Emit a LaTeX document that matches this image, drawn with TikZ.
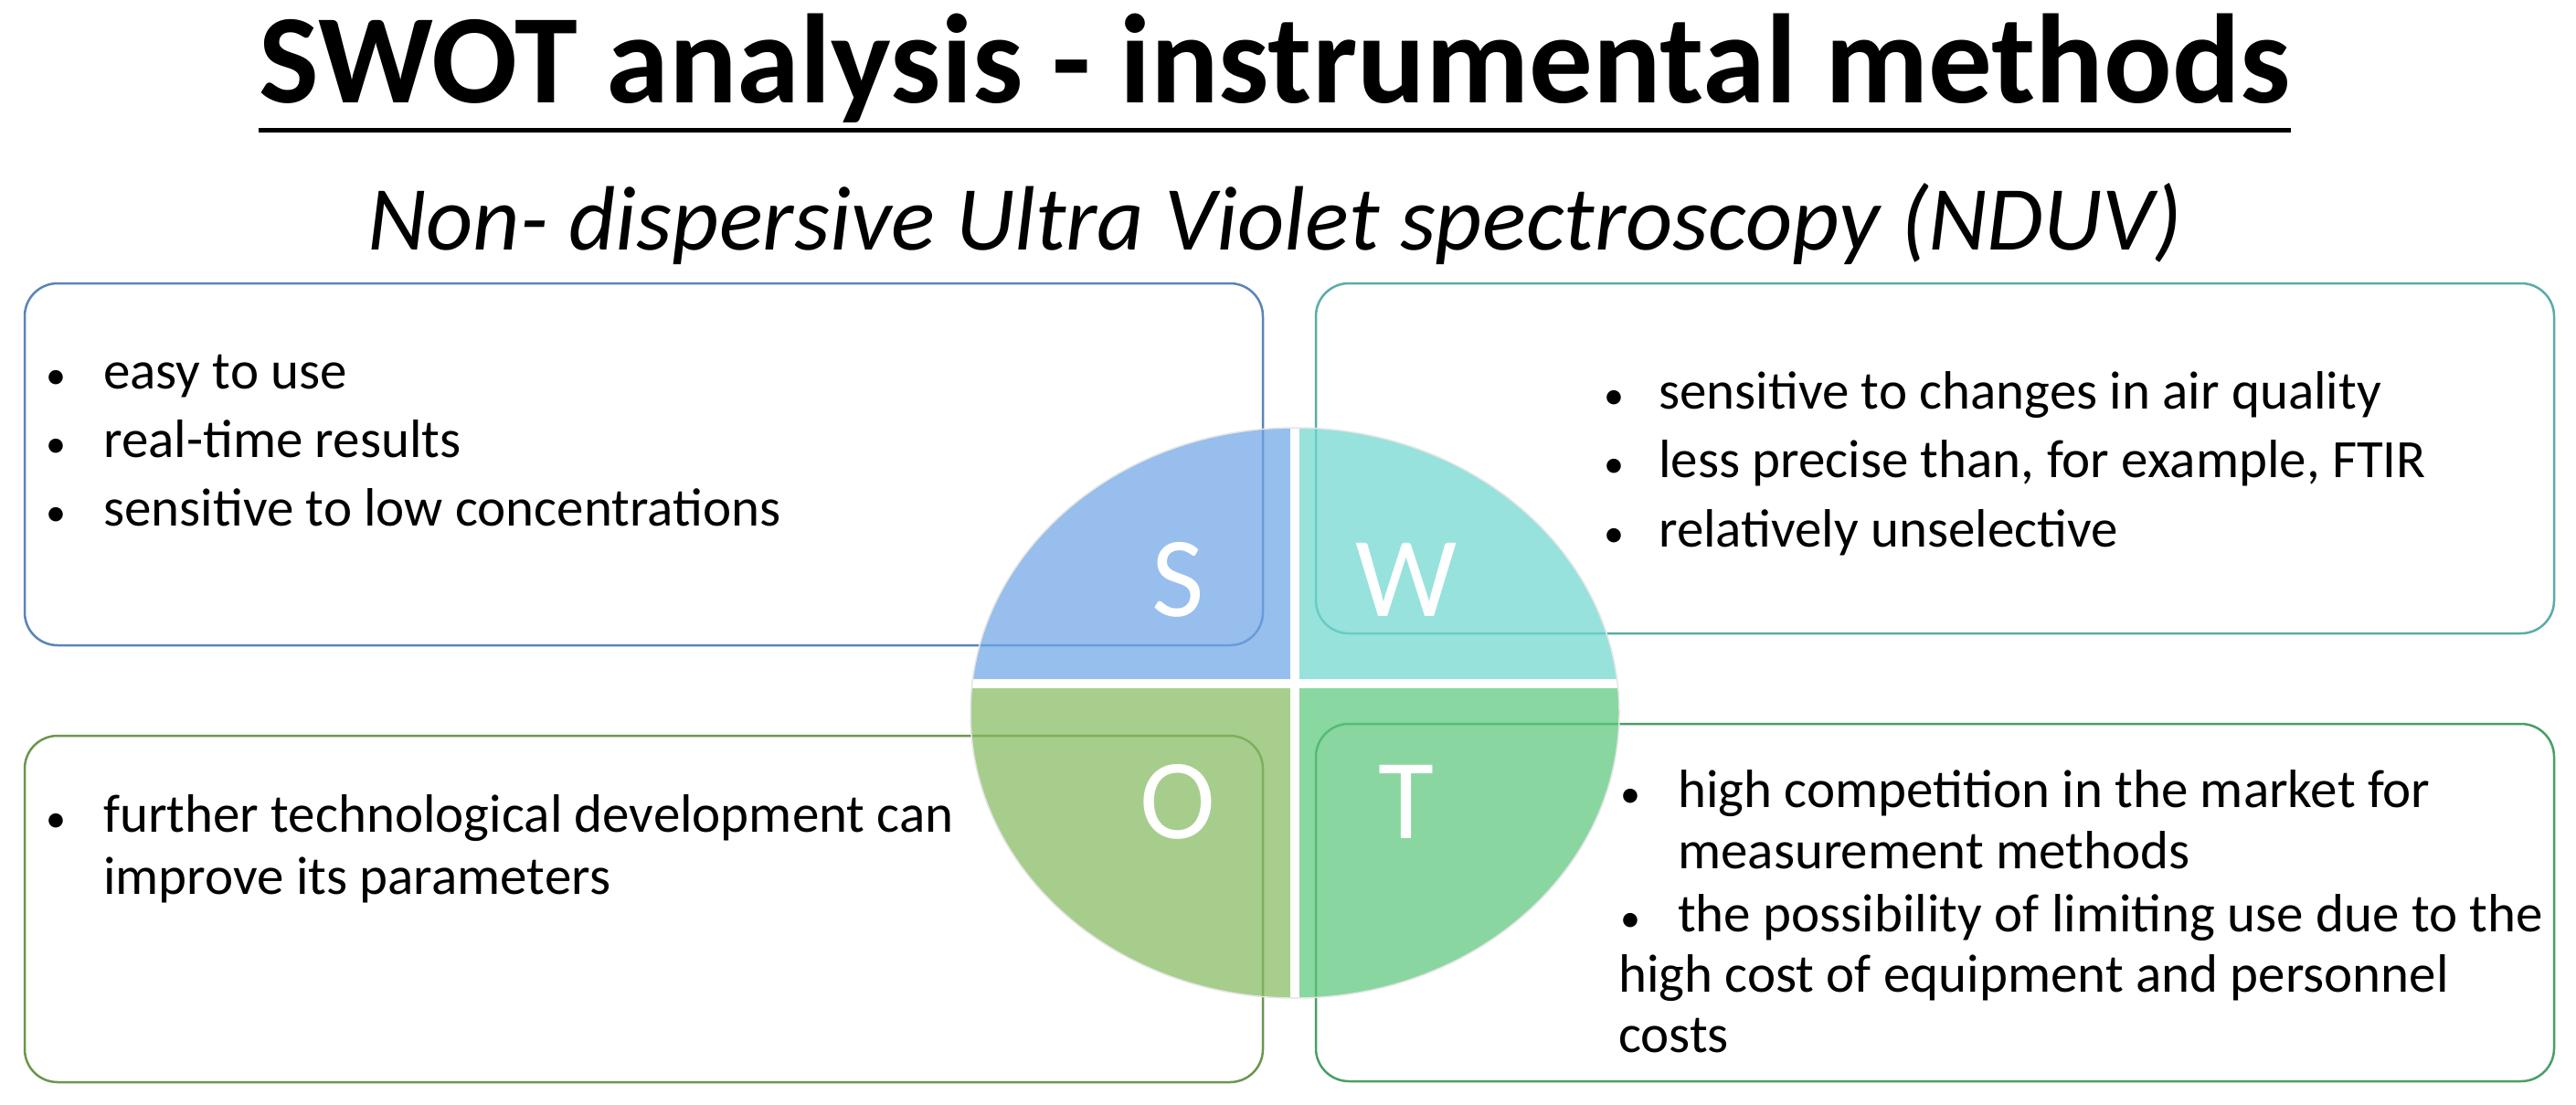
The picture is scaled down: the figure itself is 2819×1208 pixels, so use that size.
\documentclass[tikz,border=0pt]{standalone}
\usepackage{fontspec}
\setmainfont{Carlito}
\begin{document}
\begin{tikzpicture}[x=1pt,y=-1pt,
 box/.style={rounded corners=36pt,line width=2.5pt,fill=white},
 bl/.style={anchor=base west,font=\fontsize{59}{74}\selectfont,inner sep=0pt},
 dot/.style={anchor=base west,font=\fontsize{44}{74}\selectfont,inner sep=0pt},
 letter/.style={text=white,font=\fontsize{125}{130}\selectfont}]
\useasboundingbox (0,0) rectangle (2819,1208);
\definecolor{cS}{HTML}{6FA6E6}\definecolor{cW}{HTML}{6FD8CF}
\definecolor{cO}{HTML}{86BB62}\definecolor{cT}{HTML}{5CC77D}
\node[font=\bfseries\fontsize{139}{150}\selectfont,inner sep=0pt] (title) at (1395,75) {SWOT analysis - instrumental methods};
\draw[line width=5pt] (title.south west)++(0,8) -- ([yshift=-8pt]title.south east);
\node[font=\itshape\fontsize{100}{110}\selectfont] (sub) at (1395,245) {Non- dispersive Ultra Violet spectroscopy (NDUV)};
\draw[box,draw=cS!80!black] (27,310) rectangle (1382,706);
\draw[box,draw=cW!80!black] (1440,310) rectangle (2795,693);
\draw[box,draw=cO!80!black] (27,805) rectangle (1382,1184);
\draw[box,draw=cT!80!black] (1440,792) rectangle (2795,1183);
\begin{scope}
\clip (1417,780) ellipse [x radius=355, y radius=312];
\fill[cS,opacity=0.72] (1050,420) rectangle (1412,743);
\fill[cW,opacity=0.72] (1422,420) rectangle (1780,743);
\fill[cO,opacity=0.72] (1050,753) rectangle (1412,1100);
\fill[cT,opacity=0.72] (1422,753) rectangle (1780,1100);
\end{scope}
\draw[white!80!gray,line width=1.5pt] (1417,780) ellipse [x radius=355, y radius=312];
\node[letter] (S) at (1289,634) {S};
\node[letter] (W) at (1539,634) {W};
\node[letter] (O) at (1289,877) {O};
\node[letter] (T) at (1539,877) {T};
\foreach \t/\y in {easy to use/425, real-time results/500, sensitive to low concentrations/575}{
 \node[dot] at (50,\y) {•}; \node[bl] at (113,\y) {\t};}
\foreach \t/\y in {sensitive to changes in air quality/447, less precise than{,} for example{,} FTIR/522, relatively unselective/598}{
 \node[dot] at (1755,\y) {•}; \node[bl] at (1815,\y) {\t};}
\node[dot] at (50,910) {•}; \node[bl] at (113,910) {further technological development can};
\node[bl] at (113,978) {improve its parameters};
\node[dot] at (1773,883) {•}; \node[bl] at (1836,883) {high competition in the market for};
\node[bl] at (1836,950) {measurement methods};
\node[dot] at (1773,1019) {•}; \node[bl] at (1836,1019) {the possibility of limiting use due to the};
\node[bl] at (1771,1085) {high cost of equipment and personnel};
\node[bl] at (1771,1151) {costs};
\end{tikzpicture}
\end{document}
